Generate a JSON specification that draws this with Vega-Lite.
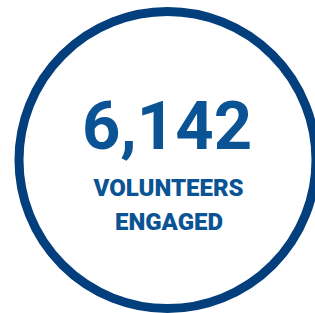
{
  "$schema": "https://vega.github.io/schema/vega-lite/v6.json",
  "width": 315,
  "height": 313,
  "autosize": {"type": "none"},
  "padding": 0,
  "background": "white",
  "config": {"view": {"stroke": null}},
  "datasets": {
    "ring": [{"x": 167.5, "y": 160}],
    "value": [{"label": "6,142", "x": 167, "y": 148.5}],
    "caption": [
      {"label": "VOLUNTEERS", "x": 168.5, "y": 196},
      {"label": "ENGAGED", "x": 169, "y": 230}
    ]
  },
  "encoding": {
    "x": {"field": "x", "type": "quantitative", "scale": {"domain": [0, 315]}, "axis": null},
    "y": {"field": "y", "type": "quantitative", "scale": {"domain": [0, 313], "reverse": true}, "axis": null}
  },
  "layer": [
    {
      "data": {"name": "ring"},
      "mark": {"type": "point", "shape": "circle", "filled": false, "size": 88209, "stroke": "#023f7c", "strokeWidth": 9, "opacity": 1}
    },
    {
      "data": {"name": "value"},
      "mark": {"type": "text", "font": "Roboto", "fontWeight": "bold", "fontSize": 67, "align": "center", "baseline": "alphabetic", "color": "#0a5395"},
      "encoding": {"text": {"field": "label"}}
    },
    {
      "data": {"name": "caption"},
      "mark": {"type": "text", "font": "Roboto", "fontWeight": 900, "fontSize": 24, "letterSpacing": 3, "align": "center", "baseline": "alphabetic", "color": "#0a5395"},
      "encoding": {"text": {"field": "label"}}
    }
  ]
}
